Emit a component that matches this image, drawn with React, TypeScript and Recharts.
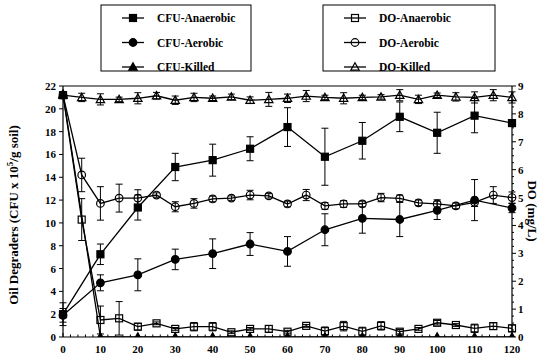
import React from 'react';
import { LineChart, Line, XAxis, YAxis, ErrorBar, ReferenceLine } from 'recharts';

// ---------- data ----------
const cfuDays = [0, 10, 20, 30, 40, 50, 60, 70, 80, 90, 100, 110, 120];
const doDays = [0, 5, 10, 15, 20, 25, 30, 35, 40, 45, 50, 55, 60, 65, 70, 75, 80, 85, 90, 95, 100, 105, 110, 115, 120];

// CFU x 10^5 / g soil (left axis)
const cfuAnaerobic = [2.0, 7.25, 11.35, 14.9, 15.5, 16.5, 18.4, 15.8, 17.2, 19.3, 17.9, 19.4, 18.75];
const cfuAnaerobicErr = [1.0, 0.9, 1.1, 1.2, 1.4, 1.05, 1.7, 2.5, 1.6, 1.3, 1.8, 1.5, 0.3];
const cfuAerobic = [1.9, 4.75, 5.45, 6.8, 7.3, 8.15, 7.5, 9.4, 10.4, 10.3, 11.1, 12.0, 11.3];
const cfuAerobicErr = [0.6, 0.7, 1.4, 0.9, 1.3, 1.0, 1.3, 1.4, 1.3, 1.5, 0.8, 1.8, 0.4];
const cfuKilled = [21.3, 0, 0, 0, 0, 0, 0, 0, 0, 0, 0, 0, 0];

// DO mg/L (right axis)
const doAnaerobic = [8.67, 4.21, 0.61, 0.67, 0.37, 0.49, 0.29, 0.37, 0.37, 0.17, 0.29, 0.29, 0.19, 0.4, 0.21, 0.39, 0.2, 0.4, 0.19, 0.29, 0.51, 0.43, 0.31, 0.39, 0.31];
const doAnaerobicErr = [0.1, 0.75, 0.5, 0.6, 0.12, 0.05, 0.05, 0.15, 0.15, 0.05, 0.05, 0.12, 0.05, 0.05, 0.15, 0.17, 0.15, 0.15, 0.08, 0.05, 0.08, 0.05, 0.15, 0.12, 0.12];
const doAerobic = [8.67, 5.81, 4.79, 4.98, 4.98, 5.09, 4.67, 4.79, 4.95, 4.98, 5.09, 5.06, 4.77, 5.09, 4.7, 4.77, 4.77, 5.0, 4.97, 4.81, 4.77, 4.7, 4.83, 5.09, 5.0];
const doAerobicErr = [0.1, 0.6, 0.6, 0.5, 0.3, 0.08, 0.18, 0.17, 0.1, 0.08, 0.17, 0.08, 0.1, 0.2, 0.12, 0.12, 0.1, 0.15, 0.12, 0.1, 0.15, 0.1, 0.15, 0.3, 0.2];
const doKilled = [8.67, 8.59, 8.52, 8.52, 8.56, 8.65, 8.49, 8.59, 8.56, 8.61, 8.49, 8.52, 8.56, 8.64, 8.59, 8.56, 8.59, 8.61, 8.67, 8.52, 8.67, 8.61, 8.59, 8.67, 8.59];
const doKilledErr = [0.1, 0.15, 0.2, 0.08, 0.2, 0.12, 0.15, 0.15, 0.08, 0.1, 0.12, 0.25, 0.15, 0.2, 0.08, 0.2, 0.08, 0.08, 0.2, 0.15, 0.08, 0.15, 0.2, 0.2, 0.2];

const xTicks = Array.from({ length: 61 }, (_, i) => i * 2);
const leftTicks = [0, 2, 4, 6, 8, 10, 12, 14, 16, 18, 20, 22];
const rightTicks = Array.from({ length: 37 }, (_, i) => i * 0.25);

const cfuNames = ['CFU-Anaerobic', 'CFU-Aerobic', 'CFU-Killed'];
const doNames = ['DO-Anaerobic', 'DO-Aerobic', 'DO-Killed'];

const build = (days: number[], vals: number[], errs?: number[]) =>
  days.map((d, i) => ({ day: d, v: vals[i], e: errs ? errs[i] : 0 }));

const FONT = '"Liberation Serif", "DejaVu Serif", serif';

// ---------- markers ----------
type Shape = 'sq' | 'ci' | 'tr';
const Marker = ({ cx, cy, shape, filled }: { cx: number; cy: number; shape: Shape; filled: boolean }) => {
  const fill = filled ? '#000' : 'none';
  const sw = 1.2;
  if (shape === 'sq') return <rect x={cx - 3.5} y={cy - 3.5} width={7} height={7} fill={fill} stroke="#000" strokeWidth={sw} />;
  if (shape === 'ci') return <circle cx={cx} cy={cy} r={3.8} fill={fill} stroke="#000" strokeWidth={sw} />;
  return <polygon points={`${cx},${cy - 4.2} ${cx + 4.2},${cy + 3.2} ${cx - 4.2},${cy + 3.2}`} fill={fill} stroke="#000" strokeWidth={sw} />;
};

const dotFn = (shape: Shape, filled: boolean) => (props: any) => {
  const { cx, cy, index } = props;
  if (cx == null || cy == null) return <g key={`d${index}`} />;
  return (
    <g key={`d${index}`}>
      <Marker cx={cx} cy={cy} shape={shape} filled={filled} />
    </g>
  );
};

// ---------- ticks ----------
const XTick = (props: any) => {
  const { x, y, payload } = props;
  const v = payload.value;
  const major = v % 10 === 0;
  return (
    <g>
      <line x1={x} x2={x} y1={y} y2={y - (major ? 4 : 2.5)} stroke="#000" strokeWidth={1} />
      {major && (
        <text x={x} y={y + 16} textAnchor="middle" fontFamily={FONT} fontWeight="bold" fontSize={11} fill="#000">
          {v}
        </text>
      )}
    </g>
  );
};

const LeftTick = (props: any) => {
  const { x, y, payload } = props;
  return (
    <g>
      <line x1={x} x2={x - 4} y1={y} y2={y} stroke="#000" strokeWidth={1} />
      <text x={x - 7} y={y + 4} textAnchor="end" fontFamily={FONT} fontWeight="bold" fontSize={11} fill="#000">
        {payload.value}
      </text>
    </g>
  );
};

const RightTick = (props: any) => {
  const { x, y, payload } = props;
  const v = payload.value;
  const major = Math.abs(v - Math.round(v)) < 1e-6;
  return (
    <g>
      <line x1={x} x2={x + (major ? 4 : 2)} y1={y} y2={y} stroke="#000" strokeWidth={1} />
      {major && (
        <text x={x + 6} y={y + 4} textAnchor="start" fontFamily={FONT} fontWeight="bold" fontSize={11} fill="#000">
          {v}
        </text>
      )}
    </g>
  );
};

// ---------- legend ----------
const cfuShapes: Shape[] = ['sq', 'ci', 'tr'];
const LegendBox = ({ x, w, names, filled }: { x: number; w: number; names: string[]; filled: boolean }) => (
  <g>
    <rect x={x} y={5} width={w} height={66} fill="#fff" stroke="#000" strokeWidth={1} />
    {names.map((n, i) => {
      const cy = 18 + i * 24.5;
      const mx = x + 32;
      return (
        <g key={n}>
          <line x1={mx - 11} x2={mx + 11} y1={cy} y2={cy} stroke="#000" strokeWidth={1.3} />
          <Marker cx={mx} cy={cy} shape={cfuShapes[i]} filled={filled} />
          <text x={x + 56} y={cy + 4} fontFamily={FONT} fontWeight="bold" fontSize={11.5} fill="#000">
            {n}
          </text>
        </g>
      );
    })}
  </g>
);

export default function App() {
  return (
    <div style={{ position: 'absolute', left: 0, top: 0, width: 542, height: 360, background: '#fff' }}>
      <LineChart width={542} height={360} margin={{ top: 86, right: 0, bottom: 0, left: 0 }}>
        <XAxis
          dataKey="day"
          type="number"
          domain={[0, 120]}
          ticks={xTicks}
          interval={0}
          tickSize={0}
          tickMargin={0}
          tickLine={false}
          tick={<XTick />}
          height={23}
          axisLine={{ stroke: '#000', strokeWidth: 1.2 }}
          allowDuplicatedCategory={false}
        />
        <YAxis
          yAxisId="left"
          domain={[0, 22]}
          ticks={leftTicks}
          interval={0}
          width={63}
          tickSize={0}
          tickMargin={0}
          tickLine={false}
          tick={<LeftTick />}
          axisLine={{ stroke: '#000', strokeWidth: 1.2 }}
          allowDataOverflow
        />
        <YAxis
          yAxisId="right"
          orientation="right"
          domain={[0, 9]}
          ticks={rightTicks}
          interval={0}
          width={30}
          tickSize={0}
          tickMargin={0}
          tickLine={false}
          tick={<RightTick />}
          axisLine={{ stroke: '#000', strokeWidth: 1.2 }}
          allowDataOverflow
        />
        <ReferenceLine yAxisId="left" y={22} stroke="#000" strokeWidth={1.2} />

        <Line yAxisId="left" data={build(cfuDays, cfuAnaerobic, cfuAnaerobicErr)} dataKey="v" name={cfuNames[0]} stroke="#000" strokeWidth={1.3} dot={dotFn('sq', true)} isAnimationActive={false}>
          <ErrorBar dataKey="e" direction="y" width={3.5} stroke="#000" strokeWidth={1} />
        </Line>
        <Line yAxisId="left" data={build(cfuDays, cfuAerobic, cfuAerobicErr)} dataKey="v" name={cfuNames[1]} stroke="#000" strokeWidth={1.3} dot={dotFn('ci', true)} isAnimationActive={false}>
          <ErrorBar dataKey="e" direction="y" width={3.5} stroke="#000" strokeWidth={1} />
        </Line>
        <Line yAxisId="left" data={build(cfuDays, cfuKilled)} dataKey="v" name={cfuNames[2]} stroke="#000" strokeWidth={1.3} dot={dotFn('tr', true)} isAnimationActive={false} />

        <Line yAxisId="right" data={build(doDays, doAnaerobic, doAnaerobicErr)} dataKey="v" name={doNames[0]} stroke="#000" strokeWidth={1.3} dot={dotFn('sq', false)} isAnimationActive={false}>
          <ErrorBar dataKey="e" direction="y" width={3.5} stroke="#000" strokeWidth={1} />
        </Line>
        <Line yAxisId="right" data={build(doDays, doAerobic, doAerobicErr)} dataKey="v" name={doNames[1]} stroke="#000" strokeWidth={1.3} dot={dotFn('ci', false)} isAnimationActive={false}>
          <ErrorBar dataKey="e" direction="y" width={3.5} stroke="#000" strokeWidth={1} />
        </Line>
        <Line yAxisId="right" data={build(doDays, doKilled, doKilledErr)} dataKey="v" name={doNames[2]} stroke="#000" strokeWidth={1.3} dot={dotFn('tr', false)} isAnimationActive={false}>
          <ErrorBar dataKey="e" direction="y" width={3.5} stroke="#000" strokeWidth={1} />
        </Line>
      </LineChart>

      <svg width={542} height={360} style={{ position: 'absolute', left: 0, top: 0, pointerEvents: 'none' }}>
        <LegendBox x={101} w={150} names={cfuNames} filled={true} />
        <LegendBox x={323} w={172} names={doNames} filled={false} />
        <text transform="translate(18,215) rotate(-90)" textAnchor="middle" fontFamily={FONT} fontWeight="bold" fontSize={13} fill="#000">
          Oil Degraders (CFU x 10<tspan dy={-5} fontSize={9}>5</tspan><tspan dy={5}>/g soil)</tspan>
        </text>
        <text transform="translate(528,211) rotate(90)" textAnchor="middle" fontFamily={FONT} fontWeight="bold" fontSize={13} fill="#000">
          DO (mg/L)
        </text>
      </svg>
    </div>
  );
}
